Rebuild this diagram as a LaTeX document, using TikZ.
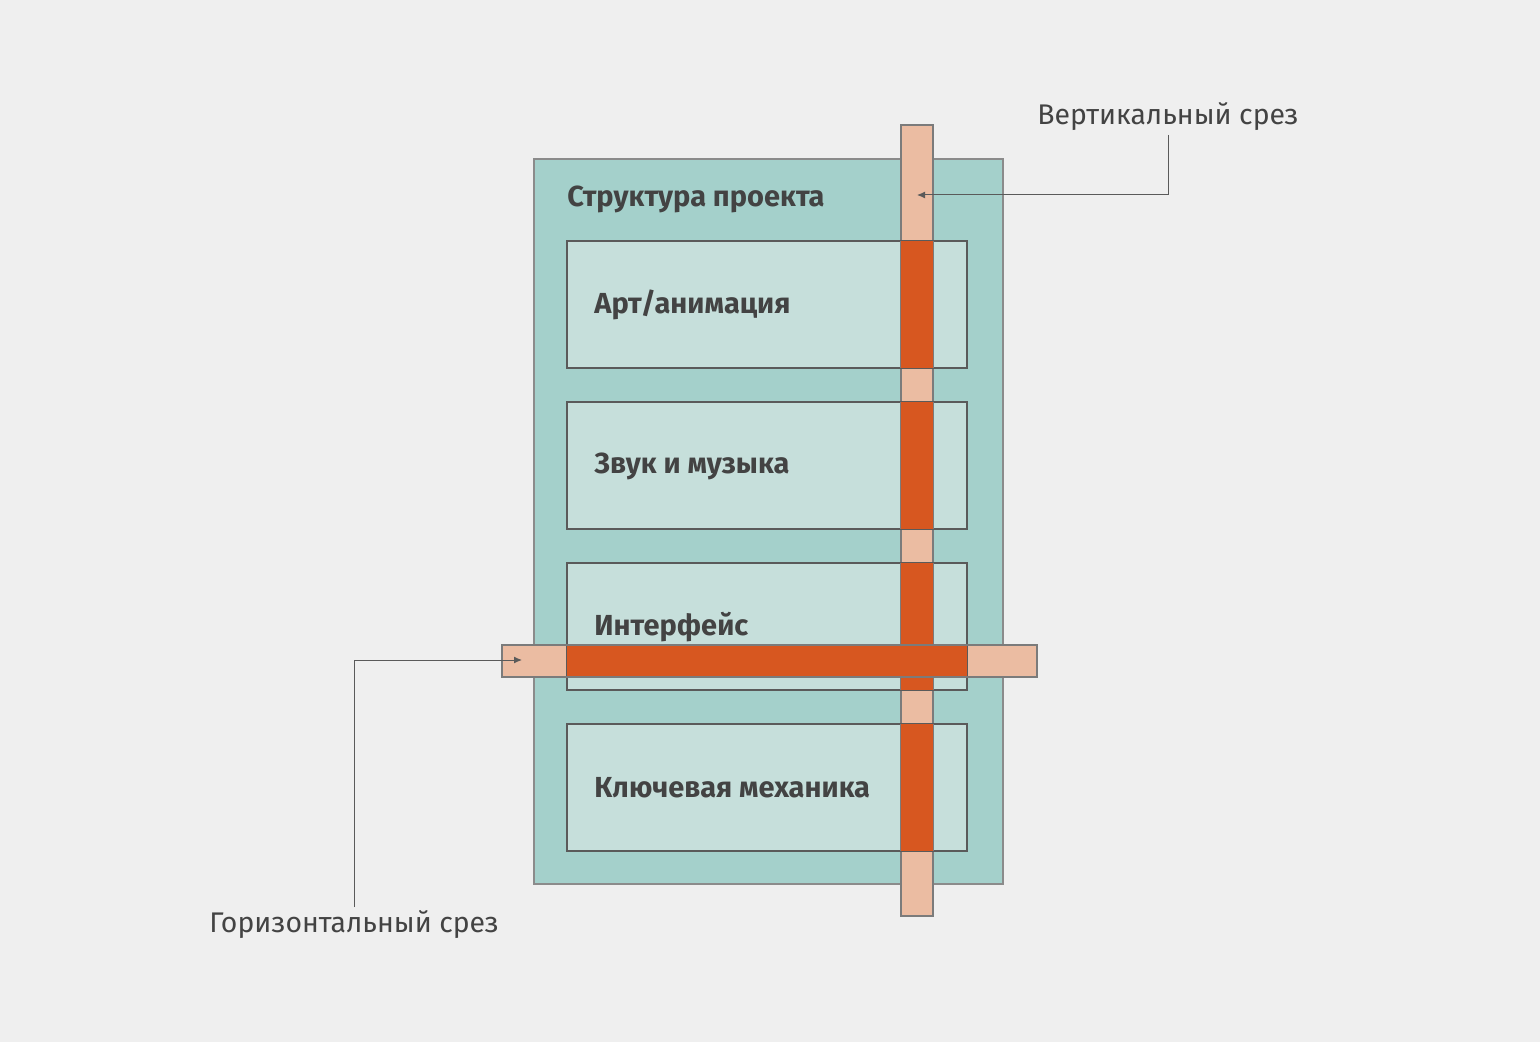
\documentclass[tikz,border=0pt]{standalone}
\usepackage{fontspec}
\setmainfont{Fira Sans}
\usetikzlibrary{arrows.meta}
\definecolor{bg}{HTML}{EFEFEF}
\definecolor{teal}{HTML}{A4D0CB}
\definecolor{boxfill}{HTML}{C6DFDB}
\definecolor{peach}{HTML}{EBBCA2}
\definecolor{rust}{HTML}{D75720}
\definecolor{ink}{HTML}{434343}
\definecolor{edge}{HTML}{5A5A5A}
\tikzset{
  part/.style={draw=edge, line width=0.6pt, fill=boxfill, minimum width=200pt, minimum height=63.5pt, inner sep=0pt},
  partlabel/.style={anchor=west, inner sep=0pt, font=\fontsize{14.5}{17}\selectfont\bfseries, text=ink},
  cutlabel/.style={inner sep=0pt, font=\fontsize{14.2}{17}\selectfont, text=ink},
  leader/.style={draw=edge, line width=0.5pt, -{Latex[length=4pt,width=3.5pt]}},
}
\begin{document}
\begin{tikzpicture}[x=0.5pt, y=-0.5pt]
    \fill[bg] (0,0) rectangle (1540,1042);
    \useasboundingbox (0,0) rectangle (1540,1042);
    % project frame
    \draw[draw=edge!70, line width=0.8pt, fill=teal] (534,159) rectangle (1003,884);
    \node[partlabel] (title) at (567,199) {Структура проекта};
    % parts
    \node[part] (art) at (767,304.5) {};
    \node[part] (sound) at (767,465.5) {};
    \node[part] (ui) at (767,626.5) {};
    \node[part] (core) at (767,787.5) {};
    % vertical cut
    \draw[draw=edge!80, line width=0.6pt, fill=peach] (901,125) rectangle (933,916);
    \foreach \n in {art,sound,ui,core}
        \fill[rust] (901,0 |- \n.north) rectangle (933,0 |- \n.south);
    % horizontal cut
    \draw[draw=edge!80, line width=0.6pt, fill=peach] (502,645) rectangle (1037,677);
    \fill[rust] (567,645) rectangle (967,677);
    % part outlines on top
    \foreach \n in {art,sound,ui,core}
        \draw[edge, line width=0.6pt] (\n.north west) rectangle (\n.south east);
    \draw[edge!80, line width=0.6pt] (502,645) rectangle (1037,677);
    \node[partlabel] (artlabel) at (594,305) {Арт/анимация};
    \node[partlabel] (soundlabel) at (594,466) {Звук и музыка};
    \node[partlabel] (uilabel) at (594,627) {Интерфейс};
    \node[partlabel] (corelabel) at (594,788) {Ключевая механика};
    % leaders
    \node[cutlabel] (vcut) at (1168,117) {Вертикальный срез};
    \node[cutlabel] (hcut) at (354,925) {Горизонтальный срез};
    \coordinate (vend) at (917,195);
    \coordinate (hend) at (522,660);
    \draw[leader] (1168,135) |- (vend);
    \draw[leader] (354,907) |- (hend);
\end{tikzpicture}
\end{document}
